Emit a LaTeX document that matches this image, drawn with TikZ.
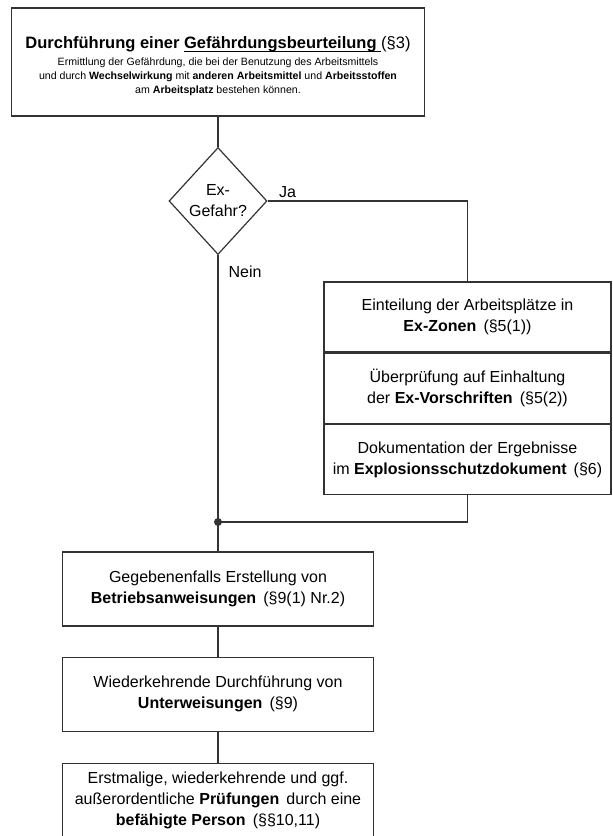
\documentclass[tikz,border=0pt]{standalone}
\usepackage{fontspec}
\setmainfont{Liberation Sans}
\usepackage{tikz}
\usetikzlibrary{shapes.geometric}
\usetikzlibrary{positioning}
\newcommand{\ustrich}[1]{\setbox0\hbox{#1}\rlap{\rule[-2.6pt]{\wd0}{0.8pt}}\box0}
\tikzstyle{kopf} = [rectangle, minimum width=413pt, minimum height=108pt, text centered, draw=black!80, line width=1.2pt, font=\fontsize{10.6}{14}\selectfont]
\tikzstyle{entscheidung} = [diamond, minimum width=98pt, minimum height=107pt, inner sep=0pt, text centered, draw=black!80, line width=1.2pt]
\tikzstyle{zone} = [rectangle, minimum width=287pt, minimum height=70pt, text centered, draw=black!80, line width=1.2pt]
\tikzstyle{schritt} = [rectangle, minimum width=311pt, minimum height=74pt, text centered, draw=black!80, line width=1.2pt]
\tikzstyle{linie} = [draw=black!80, line width=1.2pt]
\tikzstyle{marke} = [inner sep=0pt]

\begin{document}
\begin{tikzpicture}[x=1pt, y=-1pt, font=\fontsize{16}{21}\selectfont]
        \useasboundingbox (0,0) rectangle (613,836);

        \node (gbu) [kopf, align=center] at (218,62) {{\fontsize{16.5}{20}\selectfont\rule{0pt}{21pt}\bfseries Durchführung einer \ustrich{Gefährdungsbeurteilung\ }\mdseries(§3)}\\[3pt]
            Ermittlung der Gefährdung, die bei der Benutzung des Arbeitsmittels\\
            und durch \textbf{Wechselwirkung} mit \textbf{anderen Arbeitsmittel} und \textbf{Arbeitsstoffen}\\
            am \textbf{Arbeitsplatz} bestehen können.};

        \node (exgefahr) [entscheidung, align=center] at (218,201) {Ex-\\Gefahr?};
        \coordinate (knoten) at (218,522);

        % Ex-Bereich rechts
        \node (zonen) [zone, align=center] at (467.5,317) {Einteilung der Arbeitsplätze in\\\textbf{Ex-Zonen} \,(§5(1))};
        \node (vorschr) [zone, align=center, below=0pt of zonen] {Überprüfung auf Einhaltung\\der \textbf{Ex-Vorschriften} \,(§5(2))};
        \node (doku) [zone, align=center, below=0pt of vorschr] {Dokumentation der Ergebnisse\\im \textbf{Explosionsschutzdokument} \,(§6)};

        \node (betrieb) [schritt, align=center] at (218,589) {Gegebenenfalls Erstellung von\\\textbf{Betriebsanweisungen} \,(§9(1) Nr.2)};
        \node (unterw) [schritt, align=center, below=30pt of betrieb] {Wiederkehrende Durchführung von\\\textbf{Unterweisungen} \,(§9)};
        \node (pruef) [schritt, align=center, below=31pt of unterw] {Erstmalige, wiederkehrende und ggf.\\außerordentliche \textbf{Prüfungen} \,durch eine\\\textbf{befähigte Person} \,(§§10,11)};

        \draw [linie] (gbu) -- (exgefahr);
        \draw [linie] (exgefahr.east) -| node [marke, pos=0, anchor=south west, xshift=11pt, yshift=2.5pt] {Ja} (zonen);
        \draw [linie] (exgefahr.south) -- node [marke, pos=0, anchor=north west, xshift=10pt, yshift=-10pt] {Nein} (knoten);
        \draw [linie] (doku) |- (knoten);
        \fill [black!80] (knoten) circle (4pt);
        \draw [linie] (knoten) -- (betrieb);
        \draw [linie] (betrieb) -- (unterw);
        \draw [linie] (unterw) -- (pruef);

\end{tikzpicture}
\end{document}
